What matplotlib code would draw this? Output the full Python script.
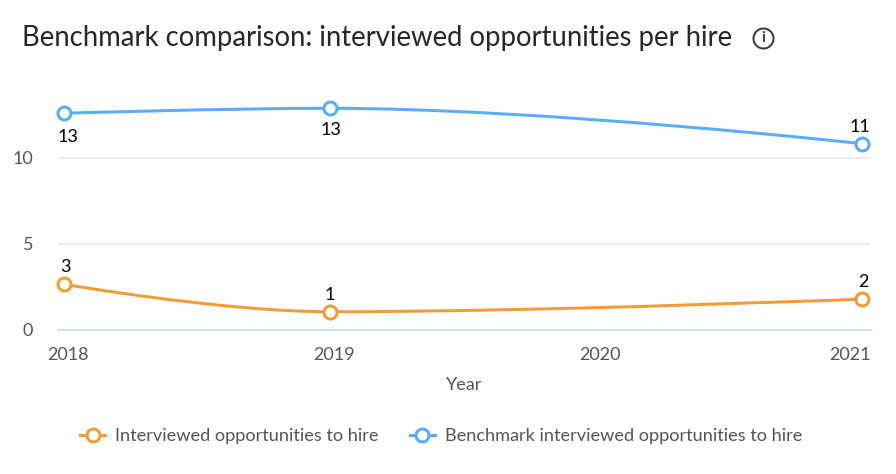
import matplotlib
matplotlib.use("Agg")
import matplotlib.pyplot as plt
from matplotlib.lines import Line2D
from matplotlib.patches import PathPatch
from matplotlib.path import Path
from matplotlib.transforms import ScaledTranslation

plt.rcParams['font.family'] = ['Lato', 'DejaVu Sans']

years = [2018, 2019, 2021]
tick_years = [2018, 2019, 2020, 2021]
interviewed = [2.66, 1.06, 1.8]
benchmark = [12.6, 12.89, 10.83]
y_ticks = [0, 5, 10]

ORANGE = '#f59b35'
BLUE = '#58aefc'
W, H = 896, 474
PX = 72 / 100


def spline_path(xs, ys):
    # same control points a highcharts spline uses
    verts = [(xs[0], ys[0])]
    codes = [Path.MOVETO]
    right = (xs[0], ys[0])
    for i in range(1, len(xs)):
        x, y = xs[i], ys[i]
        if i < len(xs) - 1:
            lx = (1.5 * x + xs[i - 1]) / 2.5
            ly = (1.5 * y + ys[i - 1]) / 2.5
            rx = (1.5 * x + xs[i + 1]) / 2.5
            ry = (1.5 * y + ys[i + 1]) / 2.5
            fix = (ry - ly) * (rx - x) / (rx - lx) + y - ry
            ly += fix
            ry += fix
            if ly > max(ys[i - 1], y) or ly < min(ys[i - 1], y):
                ly = max(ys[i - 1], y) if ly > y else min(ys[i - 1], y)
                ry = 2 * y - ly
            if ry > max(ys[i + 1], y) or ry < min(ys[i + 1], y):
                ry = max(ys[i + 1], y) if ry > y else min(ys[i + 1], y)
                ly = 2 * y - ry
        else:
            lx, ly, rx, ry = x, y, x, y
        verts += [right, (lx, ly), (x, y)]
        codes += [Path.CURVE4] * 3
        right = (rx, ry)
    return Path(verts, codes)


def draw_series(ax, values, color, offsets):
    ax.add_patch(PathPatch(spline_path(years, values), fill=False, edgecolor=color,
                           linewidth=3 * PX, clip_on=False, zorder=3))
    ax.plot(years, values, linestyle='none', marker='o', markersize=13 * PX,
            markerfacecolor='white', markeredgecolor=color, markeredgewidth=3 * PX,
            clip_on=False, zorder=4)
    for x, v, off in zip(years, values, offsets):
        ax.annotate(str(round(v)), (x, v), xytext=(off[0] * PX, off[1] * PX),
                    textcoords='offset points', ha='center', va='center',
                    fontsize=18 * PX, color='black', zorder=5)


fig = plt.figure(figsize=(W / 100, H / 100), dpi=100)
ax = fig.add_axes([58 / W, 1 - 330 / H, (871 - 58) / W, 240 / H])
ax.set_xlim(2018 - 6 / 266.1, 2021 + 8.8 / 266.1)
ax.set_ylim(0, 240 / 17.2)

for s in ['top', 'right', 'left']:
    ax.spines[s].set_visible(False)
ax.spines['bottom'].set_color('#ccd6eb')
ax.spines['bottom'].set_linewidth(1.5 * PX)
ax.grid(axis='y', color='#e8e8e8', linewidth=1.5 * PX)
ax.set_axisbelow(True)

ax.set_yticks(y_ticks)
ax.set_xticks(tick_years)
ax.tick_params(axis='both', length=0, labelsize=18 * PX, labelcolor='#555555')
ax.tick_params(axis='y', pad=25 * PX)
ax.tick_params(axis='x', pad=17 * PX)
for lab, yr in zip(ax.get_xticklabels(), tick_years):
    if yr == 2021:
        lab.set_ha('right')
        dx = 8.8
    else:
        dx = 3.5
    lab.set_transform(lab.get_transform() + ScaledTranslation(dx * PX / 72, 0, fig.dpi_scale_trans))
ax.set_xlabel('Year', fontsize=18 * PX, color='#555555', labelpad=14 * PX)

draw_series(ax, benchmark, BLUE, [(4, -24), (1, -22), (-2, 17)])
draw_series(ax, interviewed, ORANGE, [(1, 17), (0, 17), (1, 17)])

fig.text(22 / W, 1 - 38 / H, 'Benchmark comparison: interviewed opportunities per hire',
         fontsize=27.5 * PX, color='#25282b', ha='left', va='center')

# info icon next to the title
fig.add_artist(Line2D([763 / W], [1 - 38 / H], transform=fig.transFigure, marker='o',
                      markersize=20 * PX, markerfacecolor='white', markeredgecolor='#3c3c3c',
                      markeredgewidth=2 * PX, linestyle='none'))
fig.text(763 / W, 1 - 38 / H, 'i', fontsize=15 * PX, fontweight='bold', color='#3c3c3c',
         ha='center', va='center')

handles = [
    Line2D([], [], color=ORANGE, linewidth=3 * PX, marker='o', markersize=13 * PX,
           markerfacecolor='white', markeredgecolor=ORANGE, markeredgewidth=3 * PX),
    Line2D([], [], color=BLUE, linewidth=3 * PX, marker='o', markersize=13 * PX,
           markerfacecolor='white', markeredgecolor=BLUE, markeredgewidth=3 * PX),
]
fig.legend(handles, ['Interviewed opportunities to hire', 'Benchmark interviewed opportunities to hire'],
           loc='center', bbox_to_anchor=(441 / W, 1 - 436 / H), ncol=2, frameon=False,
           fontsize=18.2 * PX, labelcolor='#555555', handlelength=25 / 18.2, handletextpad=10 / 18.2,
           columnspacing=31 / 18.2, borderpad=0)

fig.savefig('out.png', dpi=100)
